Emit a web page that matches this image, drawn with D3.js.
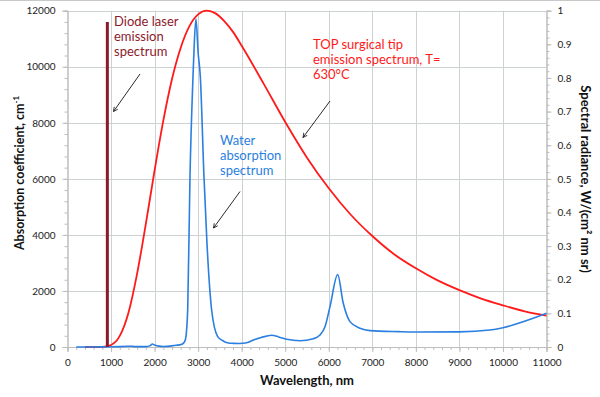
<!DOCTYPE html>
<html><head><meta charset="utf-8">
<script src="https://cdn.jsdelivr.net/npm/d3@7"></script>
<style>
body{margin:0;background:#fff;}
text{font-family:Lato,"Open Sans",sans-serif;}
</style></head>
<body><svg id="c" width="600" height="397"></svg>
<script>
// Water absorption spectrum (nm, cm^-1)
const waterNm  = [200,400,800,1000,1200,1400,1450,1550,1800,1900,1950,2000,2100,2200,2400,2500,2600,2660,2700,2714,2760,2813,2882,2912,2950,3000,3050,3134,3203,3310,3449,3550,3693,3808,3950,4115,4267,4450,4688,4850,5033,5339,5645,5798,5913,6028,6204,6333,6487,6716,6946,7596,8000,9000,9700,10000,11000];
const waterAbs = [0,0,5,10,15,25,28,15,12,50,105,70,30,20,40,60,85,130,230,310,1320,6080,9650,10850,11700,10500,9650,6080,3700,1320,370,240,140,130,125,150,250,340,418,360,275,225,296,428,726,1440,2583,1560,905,667,583,548,536,540,607,690,1200];
// TOP surgical tip emission spectrum (nm, W/(cm2 nm sr))
const tipNm  = [400,600,800,1000,1200,1400,1600,1800,2000,2200,2400,2600,2800,3000,3200,3400,3600,3800,4000,4500,5000,5500,6000,6500,7000,7500,8000,8500,9000,9500,10000,10500,11000];
const tipRad = [0,0,0.0003,0.006,0.033,0.102,0.219,0.367,0.525,0.673,0.797,0.890,0.954,0.989,1.0,0.992,0.969,0.937,0.896,0.784,0.669,0.563,0.472,0.394,0.330,0.276,0.234,0.198,0.169,0.144,0.124,0.106,0.093];
// Diode laser emission line
const diodeNm = [915];
const diodeAbs = [11600];
// ticks
const xTicks = [0,1000,2000,3000,4000,5000,6000,7000,8000,9000,10000,11000];
const yTicks = [0,2000,4000,6000,8000,10000,12000];
const y2Ticks = [0,0.1,0.2,0.3,0.4,0.5,0.6,0.7,0.8,0.9,1];
const xLabel = "Wavelength, nm";
const yLabel = "Absorption coefficient, cm";
const y2Label = "Spectral radiance, W/(cm² nm sr)";

const svg = d3.select("#c");
const L=67.5, R=546.5, T=10.7, B=347;
const x = d3.scaleLinear().domain([0,11000]).range([L,R]);
const y = d3.scaleLinear().domain([0,12000]).range([B,T]);
const y2 = d3.scaleLinear().domain([0,1]).range([B,T]);

svg.append("line").attr("x1",0).attr("x2",600).attr("y1",0.5).attr("y2",0.5).attr("stroke","#c8c8c8");

// gridlines
const grid = svg.append("g").attr("stroke","#ccd2d2").attr("stroke-width",1);
xTicks.filter(d=>d>0&&d<11000).forEach(d=>grid.append("line").attr("x1",Math.round(x(d))+0.5).attr("x2",Math.round(x(d))+0.5).attr("y1",T).attr("y2",B));
yTicks.filter(d=>d>0).forEach(d=>grid.append("line").attr("x1",L).attr("x2",R).attr("y1",Math.round(y(d))+0.5).attr("y2",Math.round(y(d))+0.5));

function styleAxis(g){
  g.select(".domain").attr("stroke","#bdbdbd");
  g.selectAll(".tick line").attr("stroke","#bdbdbd");
  g.selectAll(".tick text").attr("fill","#222").style("font-size","10px");
}
// minor ticks
const xMinor = d3.range(0,11001,200);
const yMinor = d3.range(0,12001,400);
const y2Minor = d3.range(0,1.0001,0.02);
svg.append("g").attr("transform",`translate(0,${B})`).call(d3.axisBottom(x).tickValues(xMinor).tickSize(3).tickFormat("")).call(styleAxis);
svg.append("g").attr("transform",`translate(${L},0)`).call(d3.axisLeft(y).tickValues(yMinor).tickSize(3).tickFormat("")).call(styleAxis);
svg.append("g").attr("transform",`translate(${R},0)`).call(d3.axisRight(y2).tickValues(y2Minor).tickSize(3).tickFormat("")).call(styleAxis);
// major
svg.append("g").attr("transform",`translate(0,${B})`).call(d3.axisBottom(x).tickValues(xTicks).tickSize(5).tickPadding(7).tickFormat(d3.format("d"))).call(styleAxis);
svg.append("g").attr("transform",`translate(${L},0)`).call(d3.axisLeft(y).tickValues(yTicks).tickSize(5).tickPadding(7).tickFormat(d3.format("d"))).call(styleAxis);
svg.append("g").attr("transform",`translate(${R},0)`).call(d3.axisRight(y2).tickValues(y2Ticks).tickSize(5).tickPadding(6).tickFormat(d=>d===0||d===1?String(d):d3.format(".1f")(d))).call(styleAxis);

// curves
const wData = waterNm.map((d,i)=>[d,waterAbs[i]]);
const tData = tipNm.map((d,i)=>[d,tipRad[i]]);
svg.append("path").datum(tData).attr("fill","none").attr("stroke","#ff1a1a").attr("stroke-width",1.8)
  .attr("d",d3.line().x(d=>x(d[0])).y(d=>y2(d[1])).curve(d3.curveMonotoneX));
svg.append("path").datum(wData).attr("fill","none").attr("stroke","#2a7fe0").attr("stroke-width",1.6)
  .attr("d",d3.line().x(d=>x(d[0])).y(d=>y(d[1])).curve(d3.curveMonotoneX));
svg.selectAll(".diode").data(diodeNm).join("line").attr("class","diode")
  .attr("x1",d=>x(d)).attr("x2",d=>x(d)).attr("y1",y(0)).attr("y2",(d,i)=>y(diodeAbs[i]))
  .attr("stroke","#8b1a2b").attr("stroke-width",3);

// annotations
function label(lines, x0, ys, color){
  const t = svg.append("text").attr("fill",color).style("font-size","13px");
  lines.forEach((s,i)=>t.append("tspan").attr("x",x0).attr("y",ys[i]).attr("dominant-baseline","middle").text(s));
}
label(["Diode laser","emission","spectrum"],114,[22.5,37.5,52.5],"#8b1a2b");
label(["TOP surgical tip","emission spectrum, T=","630°C"],313,[45.5,60.5,75.5],"#ff1a1a");
label(["Water","absorption","spectrum"],220,[141.5,156.5,172],"#2a7fe0");

const defs = svg.append("defs");
defs.append("marker").attr("id","arr").attr("viewBox","0 0 10 10").attr("refX",9).attr("refY",5)
  .attr("markerWidth",6).attr("markerHeight",6).attr("orient","auto")
  .append("path").attr("d","M1,1 L9,5 L1,9").attr("fill","none").attr("stroke","#111").attr("stroke-width",1.4);
[[140,74,113.5,111.5],[330,101,303,137.5],[240,191.5,213.5,228]].forEach(a=>{
  svg.append("line").attr("x1",a[0]).attr("y1",a[1]).attr("x2",a[2]).attr("y2",a[3])
    .attr("stroke","#111").attr("stroke-width",0.9).attr("marker-end","url(#arr)");
});

// axis titles
svg.append("text").attr("x",(L+R)/2+0).attr("y",385).attr("text-anchor","middle")
  .style("font-size","13px").style("font-weight","bold").attr("fill","#111").text(xLabel);
const yl = svg.append("text").attr("transform","translate(24,173) rotate(-90)").attr("text-anchor","middle")
  .style("font-size","12.5px").style("font-weight","bold").attr("fill","#111");
yl.append("tspan").text(yLabel);
yl.append("tspan").attr("dy",-5).style("font-size","8px").text("-1");
svg.append("text").attr("transform","translate(581,179) rotate(90)").attr("text-anchor","middle")
  .style("font-size","13px").style("font-weight","bold").attr("fill","#111").text(y2Label);
</script></body></html>
